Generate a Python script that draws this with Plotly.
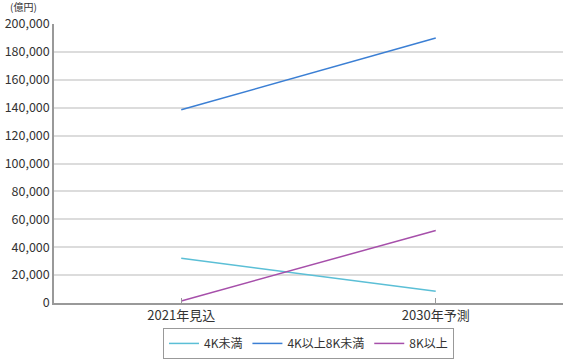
import plotly.graph_objects as go

categories = ["2021年見込", "2030年予測"]
series_names = ["4K未満", "4K以上8K未満", "8K以上"]
under_4k = [32000, 8500]
between_4k_8k = [138500, 190000]
over_8k = [1500, 52000]
colors = ["#5bbfd6", "#3b7fd4", "#a64faa"]
y_ticks = list(range(0, 200001, 20000))

fig = go.Figure()
for name, vals, c in zip(series_names, [under_4k, between_4k_8k, over_8k], colors):
    fig.add_trace(go.Scatter(x=categories, y=vals, name=name, mode="lines",
                             line=dict(color=c, width=1.5)))

font = "Noto Sans CJK JP"
fig.update_layout(
    width=564, height=360,
    margin=dict(l=54, r=1, t=24, b=57, autoexpand=False),
    plot_bgcolor="white", paper_bgcolor="white",
    font=dict(family=font, size=13, color="#333333"),
    showlegend=True,
    legend=dict(orientation="h", x=0.5, xanchor="center",
                yref="container", y=0.003, yanchor="bottom",
                bordercolor="#999999", borderwidth=1, font=dict(size=12),
                tracegroupgap=0),
    xaxis=dict(type="category", range=[-0.5, 1.5], showgrid=False,
               showline=True, linecolor="#999999", linewidth=1.5,
               ticks="inside", ticklen=5, tickcolor="#999999",
               tickfont=dict(size=13)),
    yaxis=dict(range=[0, 200000], tickvals=y_ticks,
               ticktext=[f"{v:,}" for v in y_ticks],
               showgrid=True, gridcolor="#dcdcdc", gridwidth=1.5,
               showline=True, linecolor="#999999", linewidth=1.5,
               ticks="", zeroline=False, tickfont=dict(size=12.5)),
    annotations=[dict(text="(億円)", xref="paper", yref="paper", x=-0.088, y=1.0,
                      xanchor="left", yanchor="bottom", yshift=9, borderpad=0,
                      showarrow=False, font=dict(size=10))],
)
fig.write_html("out.html")
